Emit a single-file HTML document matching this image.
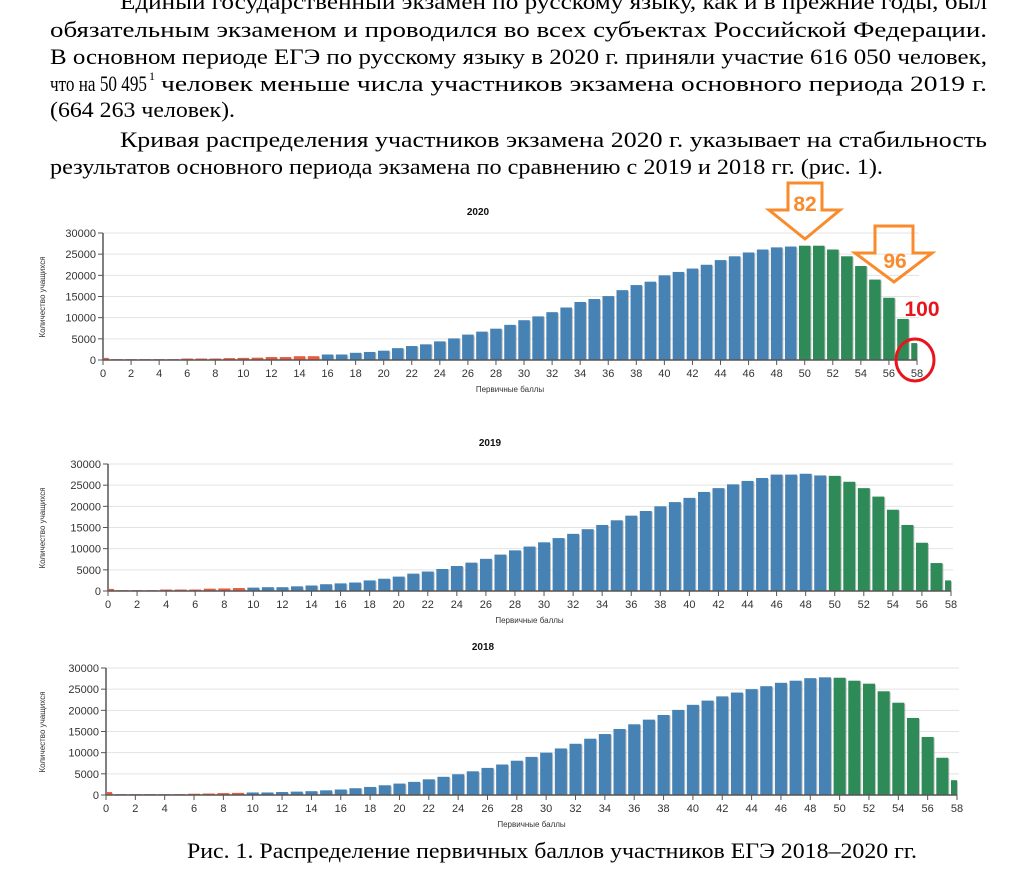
<!DOCTYPE html>
<html><head><meta charset="utf-8"><style>
html,body{margin:0;padding:0;background:#fff;width:1015px;height:871px;overflow:hidden}
svg{display:block}
.t{font-family:"Liberation Serif",serif;font-size:22px;fill:#000}
.k{font-family:"Liberation Sans",sans-serif;font-size:11px;fill:#333}
</style></head><body>
<svg id="s" width="1015" height="871" xmlns="http://www.w3.org/2000/svg">
<text class="t" x="120" y="9" textLength="867" lengthAdjust="spacingAndGlyphs">Единый государственный экзамен по русскому языку, как и в прежние годы, был</text>
<text class="t" x="50" y="37" textLength="937" lengthAdjust="spacingAndGlyphs">обязательным экзаменом и проводился во всех субъектах Российской Федерации.</text>
<text class="t" x="50" y="64" textLength="937" lengthAdjust="spacingAndGlyphs">В основном периоде ЕГЭ по русскому языку в 2020 г. приняли участие 616 050 человек,</text>
<text class="t" x="50" y="91" textLength="97" lengthAdjust="spacingAndGlyphs">что на 50 495</text>
<text x="149" y="80" style="font-family:'Liberation Serif',serif;font-size:12px">1</text>
<text class="t" x="161" y="91" textLength="826" lengthAdjust="spacingAndGlyphs">человек меньше числа участников экзамена основного периода 2019 г.</text>
<text class="t" x="50" y="117" textLength="185" lengthAdjust="spacingAndGlyphs">(664 263 человек).</text>
<text class="t" x="120" y="147" textLength="867" lengthAdjust="spacingAndGlyphs">Кривая распределения участников экзамена 2020 г. указывает на стабильность</text>
<text class="t" x="50" y="174" textLength="833" lengthAdjust="spacingAndGlyphs">результатов основного периода экзамена по сравнению с 2019 и 2018 гг. (рис. 1).</text>
<text class="t" x="187" y="858" textLength="730" lengthAdjust="spacingAndGlyphs">Рис. 1. Распределение первичных баллов участников ЕГЭ 2018–2020 гг.</text>
<g id="c"></g>
<g fill="none" stroke="#f98b2c" stroke-width="3" stroke-linejoin="miter">
<polygon points="788,183 822,183 822,210 840,210 805,239 769,210 788,210"/>
<polygon points="875,226 913,226 913,253 932,253 894,282 855,253 875,253"/>
</g>
<text x="805" y="211" text-anchor="middle" style="font:bold 21px 'Liberation Sans',sans-serif;fill:#f98b2c">82</text>
<text x="895" y="268" text-anchor="middle" style="font:bold 21px 'Liberation Sans',sans-serif;fill:#f98b2c">96</text>
<text x="922" y="316" text-anchor="middle" style="font:bold 21px 'Liberation Sans',sans-serif;fill:#e8141c">100</text>
<ellipse cx="915" cy="360" rx="19" ry="21" fill="none" stroke="#e8141c" stroke-width="3"/>
</svg>
<script>
var g=document.getElementById('c'),h='';
var d20=[500,200,200,200,200,200,350,350,350,450,500,550,700,700,900,900,1300,1300,1700,1900,2200,2800,3300,3700,4400,5100,6000,6700,7400,8300,9400,10300,11300,12400,13700,14400,15100,16500,17700,18500,20000,20800,21600,22500,23600,24500,25400,26100,26600,26800,27000,27000,26100,24500,22200,19000,14700,9700,4000];
var d19=[500,200,200,200,350,350,350,550,600,700,800,900,900,1100,1300,1600,1800,2000,2500,2900,3400,4100,4600,5200,5900,6700,7600,8600,9600,10500,11500,12500,13500,14600,15600,16700,17800,18900,20000,21000,22000,23400,24300,25200,26000,26700,27500,27500,27700,27300,27200,25800,24300,22300,19200,15600,11400,6600,2500];
var d18=[700,200,200,200,200,200,300,350,450,500,600,600,700,800,900,1100,1300,1600,1900,2300,2700,3100,3700,4300,4900,5600,6400,7200,8100,9000,10000,11000,12100,13300,14400,15600,16700,17800,18900,20100,21300,22300,23300,24200,25000,25700,26500,27000,27600,27800,27700,27000,26300,24500,21800,18200,13700,8800,3500];
function chart(d,ax,x58,y0,title,tx,redEnd){
 var st=(x58-ax)/58,sc=127/30000,w=st*0.82;
 for(var v=0;v<=30000;v+=5000){var y=y0-v*sc;
  if(v>0)h+='<line x1="'+ax+'" x2="'+(x58+2)+'" y1="'+y+'" y2="'+y+'" stroke="#e3e3e3" stroke-width="1"/>';
  h+='<line x1="'+(ax-5)+'" x2="'+ax+'" y1="'+y+'" y2="'+y+'" stroke="#555"/>';
  h+='<text class="k" x="'+(ax-7)+'" y="'+(y+4)+'" text-anchor="end">'+v+'</text>';}
 for(var i=0;i<59;i++){var cx=ax+i*st,x1=Math.max(ax+1,cx-w/2),x2=Math.min(x58,cx+w/2),hh=d[i]*sc;
  var col=i<redEnd?'#f0583e':(i>=50?'#2e8b57':'#4682b4');
  h+='<rect x="'+(x1+1)+'" y="'+(y0-hh+1)+'" width="'+(x2-x1)+'" height="'+(hh-1)+'" fill="#999" opacity="0.6"/>';
  h+='<rect x="'+x1+'" y="'+(y0-hh)+'" width="'+(x2-x1)+'" height="'+hh+'" fill="'+col+'"/>';
  if(i%2==0){h+='<line x1="'+cx+'" x2="'+cx+'" y1="'+y0+'" y2="'+(y0+5)+'" stroke="#555"/>';
   h+='<text class="k" x="'+cx+'" y="'+(y0+17)+'" text-anchor="middle">'+i+'</text>';}}
 h+='<line x1="'+ax+'" x2="'+ax+'" y1="'+(y0-127)+'" y2="'+y0+'" stroke="#555" stroke-width="1.5"/>';
 h+='<line x1="'+ax+'" x2="'+x58+'" y1="'+y0+'" y2="'+y0+'" stroke="#555" stroke-width="1.5"/>';
 h+='<text x="'+tx+'" y="'+(y0-145)+'" text-anchor="middle" style="font:bold 10px \'Liberation Sans\',sans-serif;fill:#111">'+title+'</text>';
 h+='<text x="'+((ax+x58)/2)+'" y="'+(y0+32)+'" text-anchor="middle" style="font:8px \'Liberation Sans\',sans-serif;fill:#333">Первичные баллы</text>';
 h+='<text transform="translate(45,'+(y0-63)+') rotate(-90)" text-anchor="middle" style="font:8px \'Liberation Sans\',sans-serif;fill:#333">Количество учащихся</text>';
}
chart(d20,103,917,360,'2020',478,16);
chart(d19,108,951,591,'2019',490,10);
chart(d18,106,957,795,'2018',483,10);
g.innerHTML=h;
</script>
</body></html>
